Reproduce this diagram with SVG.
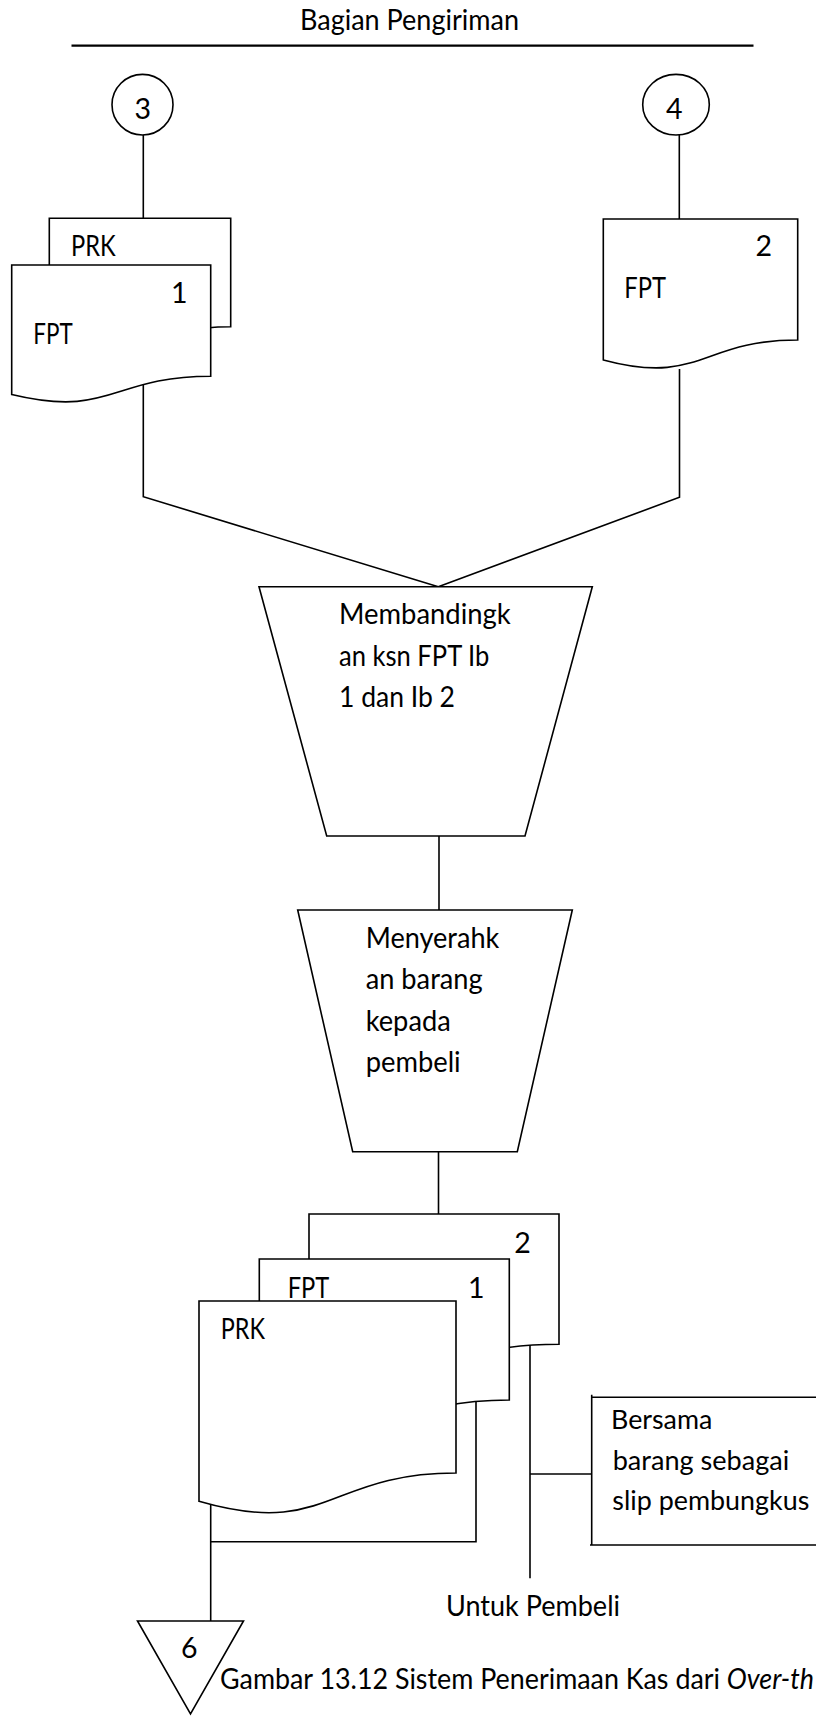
<svg xmlns="http://www.w3.org/2000/svg" width="816" height="1717" viewBox="0 0 816 1717">
  <style>
    .shape { fill: #ffffff; stroke: #000000; stroke-width: 1.6; stroke-linejoin: miter; }
    .line { fill: none; stroke: #000000; stroke-width: 1.6; }
    .label { font-family: Lato, "Liberation Sans", sans-serif; font-size: 28.5px; fill: #000000; }
    .note { font-size: 26.5px; }
    .num { text-anchor: middle; }
  </style>
  <rect x="0" y="0" width="816" height="1717" fill="#ffffff"/>

  <!-- swimlane heading -->
  <g id="lane-header">
    <text class="label" x="300" y="30" textLength="219" lengthAdjust="spacingAndGlyphs">Bagian Pengiriman</text>
    <line x1="71.5" y1="45.7" x2="753.5" y2="45.7" stroke="#000" stroke-width="2.2"/>
  </g>

  <!-- connectors -->
  <g id="connectors">
    <path class="line" d="M143.3,135 V219"/>
    <path class="line" d="M679.3,135 V219"/>
    <path class="line" d="M143.3,380.7 V496.7 L438.3,586.7"/>
    <path class="line" d="M679.5,369 V497.3 L438.3,586.7"/>
    <path class="line" d="M439,836 V910"/>
    <path class="line" d="M438.5,1151.7 V1214"/>
    <path class="line" d="M530,1343.3 V1578.3"/>
    <path class="line" d="M530,1474 H591.7"/>
    <path class="line" d="M476,1394.3 V1541.7 H210.7"/>
    <path class="line" d="M210.7,1501.7 V1621"/>
  </g>

  <!-- off-page connector 3 -->
  <g id="connector-3">
    <ellipse class="shape" cx="142.5" cy="104.7" rx="30.5" ry="30.3"/>
    <text class="label num" x="142.7" y="118.7">3</text>
  </g>

  <!-- off-page connector 4 -->
  <g id="connector-4">
    <ellipse class="shape" cx="676" cy="104.7" rx="33.3" ry="30.3"/>
    <text class="label num" x="674.3" y="119">4</text>
  </g>

  <!-- PRK + FPT lembar 1 -->
  <g id="doc-prk-top">
    <path class="shape" d="M49.3,218.3 H230.7 V326.8 C140,326.8 140,368.1 49.3,344.7 Z"/>
    <text class="label" x="71" y="256" textLength="44.7" lengthAdjust="spacingAndGlyphs">PRK</text>
  </g>
  <g id="doc-fpt1-top">
    <path class="shape" d="M11.7,265 H210.7 V376.2 C111.2,376.2 111.2,418.5 11.7,394.5 Z"/>
    <text class="label num" x="179.2" y="302.7">1</text>
    <text class="label" x="33.3" y="344.3" textLength="39.4" lengthAdjust="spacingAndGlyphs">FPT</text>
  </g>

  <!-- FPT lembar 2 -->
  <g id="doc-fpt2-top">
    <path class="shape" d="M603.3,219 H797.7 V340 C700.5,340 700.5,386 603.3,359.9 Z"/>
    <text class="label num" x="763.7" y="256">2</text>
    <text class="label" x="624.3" y="297.7" textLength="41.7" lengthAdjust="spacingAndGlyphs">FPT</text>
  </g>

  <!-- manual process: compare -->
  <g id="proc-compare">
    <path class="shape" d="M259,586.7 H592.3 L525,836 H326.7 Z"/>
    <text class="label" x="339" y="624" textLength="171.7" lengthAdjust="spacingAndGlyphs">Membandingk</text>
    <text class="label" x="339" y="665.5" textLength="150.3" lengthAdjust="spacingAndGlyphs">an ksn FPT Ib</text>
    <text class="label" x="339" y="706.7" textLength="116" lengthAdjust="spacingAndGlyphs">1 dan Ib 2</text>
  </g>

  <!-- manual process: hand over goods -->
  <g id="proc-handover">
    <path class="shape" d="M297.7,910 H572.3 L517.3,1151.7 H352.7 Z"/>
    <text class="label" x="365.7" y="947.7" textLength="133.6" lengthAdjust="spacingAndGlyphs">Menyerahk</text>
    <text class="label" x="365.7" y="989.2" textLength="117" lengthAdjust="spacingAndGlyphs">an barang</text>
    <text class="label" x="365.7" y="1030.7" textLength="85" lengthAdjust="spacingAndGlyphs">kepada</text>
    <text class="label" x="365.7" y="1072.2" textLength="95" lengthAdjust="spacingAndGlyphs">pembeli</text>
  </g>

  <!-- document set: lembar 2, FPT 1, PRK -->
  <g id="doc-set-2">
    <path class="shape" d="M309,1214 H559 V1344.3 C434,1344.3 434,1393.9 309,1365.8 Z"/>
    <text class="label num" x="522.5" y="1252.7">2</text>
  </g>
  <g id="doc-set-fpt1">
    <path class="shape" d="M259.3,1259 H509.3 V1400 C384.3,1400 384.3,1453.6 259.3,1423.2 Z"/>
    <text class="label" x="287.7" y="1297.7" textLength="41.6" lengthAdjust="spacingAndGlyphs">FPT</text>
    <text class="label num" x="476.2" y="1297.7">1</text>
  </g>
  <g id="doc-set-prk">
    <path class="shape" d="M199,1301 H456 V1473 C327.5,1473 327.5,1538.5 199,1501.3 Z"/>
    <text class="label" x="220.7" y="1339.3" textLength="44.3" lengthAdjust="spacingAndGlyphs">PRK</text>
  </g>

  <!-- annotation -->
  <g id="note-packing-slip">
    <path class="line" d="M591.7,1397.3 H818 M591.7,1394.7 V1545 M590,1545 H818"/>
    <text class="label note" x="611" y="1429.3" textLength="101.3" lengthAdjust="spacingAndGlyphs">Bersama</text>
    <text class="label note" x="612.7" y="1470" textLength="176.6" lengthAdjust="spacingAndGlyphs">barang sebagai</text>
    <text class="label note" x="612.3" y="1510" textLength="197" lengthAdjust="spacingAndGlyphs">slip pembungkus</text>
  </g>

  <g id="label-buyer">
    <text class="label" x="446" y="1616" textLength="174" lengthAdjust="spacingAndGlyphs">Untuk Pembeli</text>
  </g>

  <!-- off-page connector 6 -->
  <g id="connector-6">
    <path class="shape" d="M137.5,1621 H243.5 L190.5,1714 Z"/>
    <text class="label num" x="189.3" y="1658.3">6</text>
  </g>

  <!-- figure caption -->
  <g id="caption">
    <text class="label" x="220" y="1689" textLength="594" lengthAdjust="spacingAndGlyphs">Gambar 13.12 Sistem Penerimaan Kas dari <tspan font-style="italic">Over-th</tspan></text>
  </g>
</svg>
